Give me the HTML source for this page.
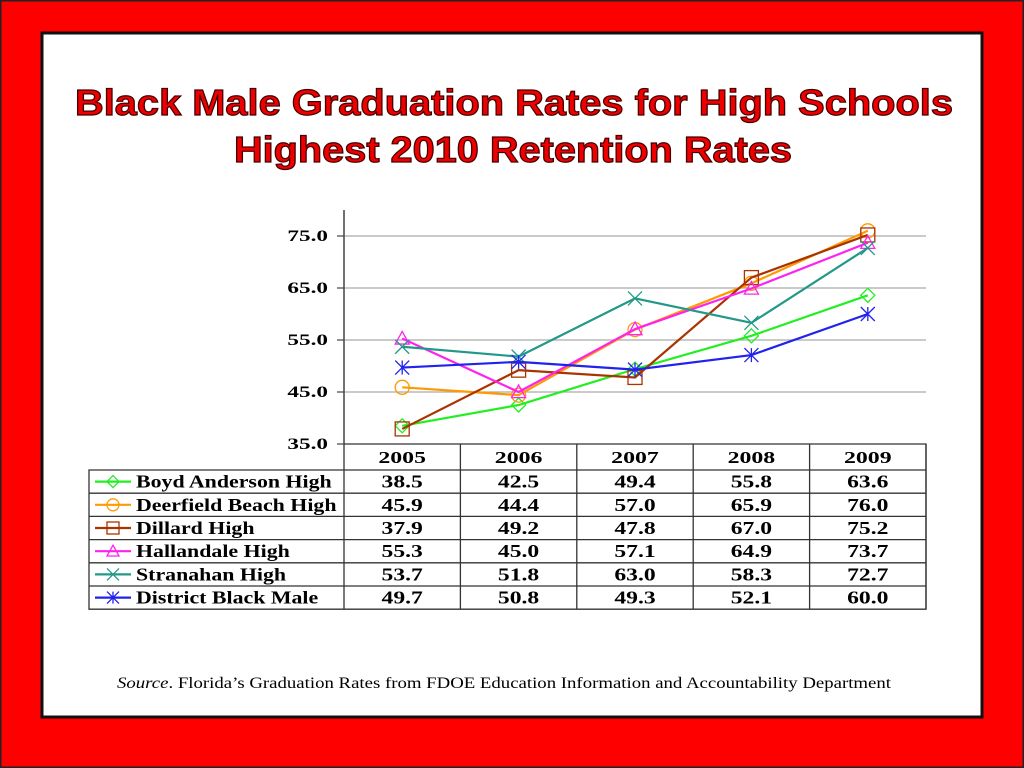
<!DOCTYPE html>
<html><head><meta charset="utf-8"><style>
html,body{margin:0;padding:0;width:1024px;height:768px;overflow:hidden;background:#ff0000;}
svg{display:block}
</style></head><body>
<svg id="chart" width="1024" height="768" xmlns="http://www.w3.org/2000/svg">
<rect x="0" y="0" width="1024" height="768" fill="#ff0000"/>
<rect x="0.5" y="0.5" width="1023" height="767" fill="none" stroke="#222" stroke-width="2"/>
<rect x="42" y="33" width="940" height="684" fill="#fff" stroke="#111" stroke-width="3"/>
<g font-family="Liberation Sans, Arial, sans-serif" font-weight="bold" font-size="36" fill="#ee0000" stroke="#400" stroke-width="1.2" text-anchor="middle">
<text x="514" y="115" textLength="878" lengthAdjust="spacingAndGlyphs">Black Male Graduation Rates for High Schools</text>
<text x="513" y="162" textLength="558" lengthAdjust="spacingAndGlyphs">Highest 2010 Retention Rates</text>
</g>
<g id="plot"></g>
<g id="table"></g>
<text x="504" y="688" text-anchor="middle" font-family="Liberation Serif, serif" font-size="16" fill="#000" textLength="774" lengthAdjust="spacingAndGlyphs"><tspan font-style="italic">Source</tspan>. Florida’s Graduation Rates from FDOE Education Information and Accountability Department</text>
</svg>
<script>
const years = ["2005","2006","2007","2008","2009"];
const seriesNames = ["Boyd Anderson High","Deerfield Beach High","Dillard High","Hallandale High","Stranahan High","District Black Male"];
const boyd = [38.5,42.5,49.4,55.8,63.6];
const deerfield = [45.9,44.4,57.0,65.9,76.0];
const dillard = [37.9,49.2,47.8,67.0,75.2];
const hallandale = [55.3,45.0,57.1,64.9,73.7];
const stranahan = [53.7,51.8,63.0,58.3,72.7];
const district = [49.7,50.8,49.3,52.1,60.0];
const yTicks = [35,45,55,65,75];

const seriesValues = [boyd,deerfield,dillard,hallandale,stranahan,district];
const colors = ["#22ee22","#ff9900","#aa3300","#ff22ee","#229988","#2222ee"];
const markers = ["diamond","circle","square","triangle","x","star"];
const NS = "http://www.w3.org/2000/svg";
const x0 = 344, x1 = 926, yBase = 444, yTop = 236;
const colW = (x1 - x0) / years.length;
const xScale = i => x0 + colW * (i + 0.5);
const yScale = v => yBase - (v - 35) / 40 * (yBase - yTop);
function mk(tag, attrs, parent){const e=document.createElementNS(NS,tag);for(const k in attrs)e.setAttribute(k,attrs[k]);parent.appendChild(e);return e;}
function widen(t,f){const w=t.getComputedTextLength();t.setAttribute('textLength',(w*f).toFixed(1));t.setAttribute('lengthAdjust','spacingAndGlyphs');}
const plot = document.getElementById('plot');
const table = document.getElementById('table');

yTicks.forEach(t=>{
  const y = yScale(t);
  if (t > 35) {
    const g = mk('line',{x1:x0,x2:x1,y1:y,y2:y,stroke:'#aaa','stroke-width':1.2},plot);
    
    
  }
  const tl = mk('text',{x:x0-16,y:y+5,'text-anchor':'end','font-family':'Liberation Serif, serif','font-weight':'bold','font-size':16},plot);
  tl.textContent = t.toFixed(1);
  
  
  widen(tl,1.45);
  const tk = mk('line',{x1:x0-7,x2:x0,y1:y,y2:y,stroke:'#444','stroke-width':1.2},plot);
  
  
});
const ax = mk('line',{x1:x0,x2:x0,y1:210,y2:yBase,stroke:'#444','stroke-width':1.5},plot);



function marker(type,cx,cy,color,parent,s){
  s = s||7;
  let e;
  if(type==='diamond') e=mk('polygon',{points:`${cx},${cy-s} ${cx+s},${cy} ${cx},${cy+s} ${cx-s},${cy}`,fill:'none',stroke:color,'stroke-width':1.3},parent);
  else if(type==='circle') e=mk('circle',{cx,cy,r:s,fill:'none',stroke:color,'stroke-width':1.3},parent);
  else if(type==='square') e=mk('rect',{x:cx-s,y:cy-s,width:2*s,height:2*s,fill:'none',stroke:color,'stroke-width':1.3},parent);
  else if(type==='triangle') e=mk('polygon',{points:`${cx},${cy-s} ${cx+s},${cy+s*0.8} ${cx-s},${cy+s*0.8}`,fill:'none',stroke:color,'stroke-width':1.3},parent);
  else if(type==='x') e=mk('path',{d:`M${cx-s},${cy-s}L${cx+s},${cy+s}M${cx-s},${cy+s}L${cx+s},${cy-s}`,stroke:color,'stroke-width':1.3},parent);
  else e=mk('path',{d:`M${cx-s},${cy-s}L${cx+s},${cy+s}M${cx-s},${cy+s}L${cx+s},${cy-s}M${cx},${cy-s}L${cx},${cy+s}`,stroke:color,'stroke-width':1.3},parent);
  return e;
}

seriesValues.forEach((vals,si)=>{
  const pts = vals.map((v,i)=>xScale(i)+','+yScale(v)).join(' ');
  const pl = mk('polyline',{points:pts,fill:'none',stroke:colors[si],'stroke-width':2.2},plot);
  
  
  vals.forEach((v,i)=>{
    const m = marker(markers[si],xScale(i),yScale(v),colors[si],plot,7);
    
    
  });
});

const tLeft = 89, headerTop = 444, rowTop = 470, rowH = 23.2;
const tBottom = rowTop + rowH*seriesNames.length;
const hb = mk('path',{d:`M${x0},${headerTop}H${x1}V${tBottom}H${tLeft}V${rowTop}H${x1}`,fill:'none',stroke:'#333','stroke-width':1.3},table);


for(let i=0;i<=years.length;i++){
  const x = x0 + colW*i;
  const l = mk('line',{x1:x,x2:x,y1:headerTop,y2:tBottom,stroke:'#333','stroke-width':1.3},table);
  
  
}
for(let r=1;r<seriesNames.length;r++){
  const y = rowTop + rowH*r;
  const l = mk('line',{x1:tLeft,x2:x1,y1:y,y2:y,stroke:'#333','stroke-width':1.3},table);
  
  
}
years.forEach((yr,i)=>{
  const t = mk('text',{x:xScale(i),y:headerTop+19,'text-anchor':'middle','font-family':'Liberation Serif, serif','font-weight':'bold','font-size':17},table);
  t.textContent = yr;
  
  
  widen(t,1.4);
});
seriesNames.forEach((nm,si)=>{
  const cy = rowTop + rowH*si + rowH/2;
  const ll = mk('line',{x1:tLeft+6,x2:tLeft+42,y1:cy,y2:cy,stroke:colors[si],'stroke-width':2.2},table);
  
  
  const lm = marker(markers[si],tLeft+24,cy,colors[si],table,6);
  
  
  const lt = mk('text',{x:tLeft+47,y:cy+6,'font-family':'Liberation Serif, serif','font-weight':'bold','font-size':17.5},table);
  lt.textContent = nm;
  
  
  widen(lt,1.25);
  seriesValues[si].forEach((v,i)=>{
    const ct = mk('text',{x:xScale(i),y:cy+6,'text-anchor':'middle','font-family':'Liberation Serif, serif','font-weight':'bold','font-size':17.5},table);
    ct.textContent = v.toFixed(1);
    
    
    widen(ct,1.35);
  });
});
</script>
</body></html>
